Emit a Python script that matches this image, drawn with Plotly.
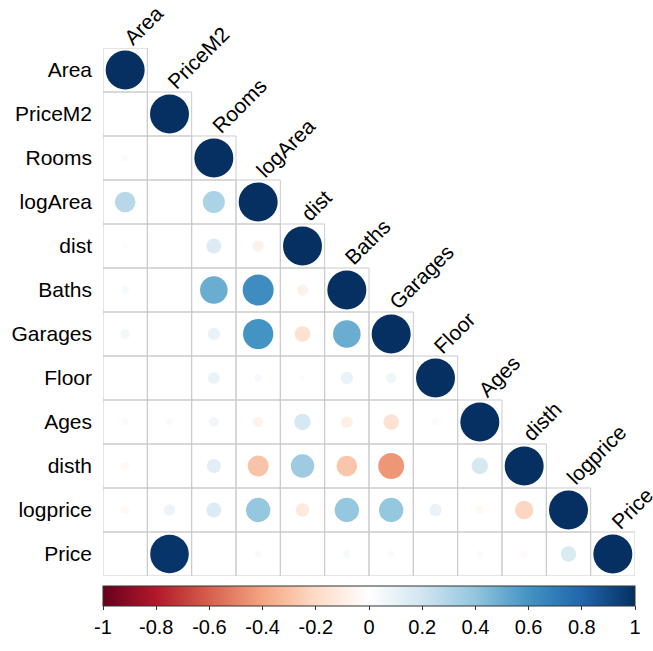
import numpy as np
import plotly.graph_objects as go

variables = ["Area", "PriceM2", "Rooms", "logArea", "dist", "Baths", "Garages",
             "Floor", "Ages", "disth", "logprice", "Price"]

# lower-triangle correlation rows (row i has i+1 values, last is diagonal)
corr_rows = [
    [1.0],
    [0.005, 1.0],
    [0.03, 0.01, 1.0],
    [0.28, 0.01, 0.32, 1.0],
    [-0.02, 0.01, 0.15, -0.08, 1.0],
    [0.04, 0.005, 0.50, 0.63, -0.08, 1.0],
    [0.06, 0.005, 0.10, 0.60, -0.16, 0.50, 1.0],
    [0.01, 0.005, 0.09, 0.04, -0.02, 0.10, 0.07, 1.0],
    [-0.03, 0.03, 0.066, -0.07, 0.18, -0.09, -0.16, -0.03, 1.0],
    [-0.04, 0.005, 0.13, -0.29, 0.36, -0.28, -0.44, 0.01, 0.18, 1.0],
    [-0.04, 0.085, 0.15, 0.39, -0.12, 0.39, 0.39, 0.10, -0.04, -0.22, 1.0],
    [0.01, 0.98, 0.01, 0.03, 0.01, 0.04, 0.03, 0.01, 0.03, -0.03, 0.16, 1.0],
]

colorscale_hex = ["#67001F", "#B2182B", "#D6604D", "#F4A582", "#FDDBC7", "#FFFFFF",
                  "#D1E5F0", "#92C5DE", "#4393C3", "#2166AC", "#053061"]
colorbar_ticks = [-1, -0.8, -0.6, -0.4, -0.2, 0, 0.2, 0.4, 0.6, 0.8, 1]
colorbar_ticktext = ["-1", "-0.8", "-0.6", "-0.4", "-0.2", "0", "0.2", "0.4", "0.6", "0.8", "1"]

n = len(variables)
xs, ys, vals = [], [], []
for i, row in enumerate(corr_rows):
    for j, v in enumerate(row):
        xs.append(j)
        ys.append(i)
        vals.append(v)
vals = np.array(vals)
MAXD = 39.0
sizes = np.sqrt(np.abs(vals)) * MAXD

cs = [[k / (len(colorscale_hex) - 1), c] for k, c in enumerate(colorscale_hex)]

FONT = "Liberation Sans, Arial, sans-serif"

fig = go.Figure()

shapes = []
for i in range(n):
    for j in range(i + 1):
        shapes.append(dict(type="rect", xref="x", yref="y",
                           x0=j - 0.5, x1=j + 0.5, y0=i - 0.5, y1=i + 0.5,
                           line=dict(color="#CBCBCB", width=1), layer="below"))

fig.add_trace(go.Scatter(
    x=xs, y=ys, mode="markers",
    marker=dict(size=sizes, color=vals, cmin=-1, cmax=1, colorscale=cs,
                line=dict(width=0), opacity=1,
                colorbar=dict(orientation="h", x=0, xanchor="left", xref="paper",
                              y=-0.019, yanchor="top", yref="paper",
                              len=1.0, lenmode="fraction", thickness=20,
                              xpad=0, ypad=0,
                              outlinecolor="#333333", outlinewidth=1,
                              tickmode="array", tickvals=colorbar_ticks,
                              ticktext=colorbar_ticktext,
                              ticks="outside", ticklen=4, tickcolor="#333333",
                              tickfont=dict(family=FONT, size=20, color="#000000"))),
    hoverinfo="skip", showlegend=False))

annotations = []
for i, name in enumerate(variables):
    annotations.append(dict(x=i, y=i - 0.5, xref="x", yref="y", text=name,
                            showarrow=False, textangle=-45,
                            xanchor="left", yanchor="bottom",
                            xshift=-9, yshift=-4,
                            font=dict(family=FONT, size=21, color="#000000")))

fig.update_layout(
    width=653, height=651,
    margin=dict(l=103, r=18, t=48, b=73),
    paper_bgcolor="white", plot_bgcolor="white",
    shapes=shapes, annotations=annotations,
    xaxis=dict(range=[-0.5, n - 0.5], showgrid=False, zeroline=False,
               showticklabels=False, ticks="", fixedrange=True),
    yaxis=dict(range=[n - 0.5, -0.5], showgrid=False, zeroline=False,
               tickmode="array", tickvals=list(range(n)), ticktext=variables,
               ticks="", ticklabelstandoff=10,
               tickfont=dict(family=FONT, size=21, color="#000000"), fixedrange=True),
)

fig.write_html("out.html", config={"displayModeBar": False},
               post_script="document.body.style.margin='0';")
